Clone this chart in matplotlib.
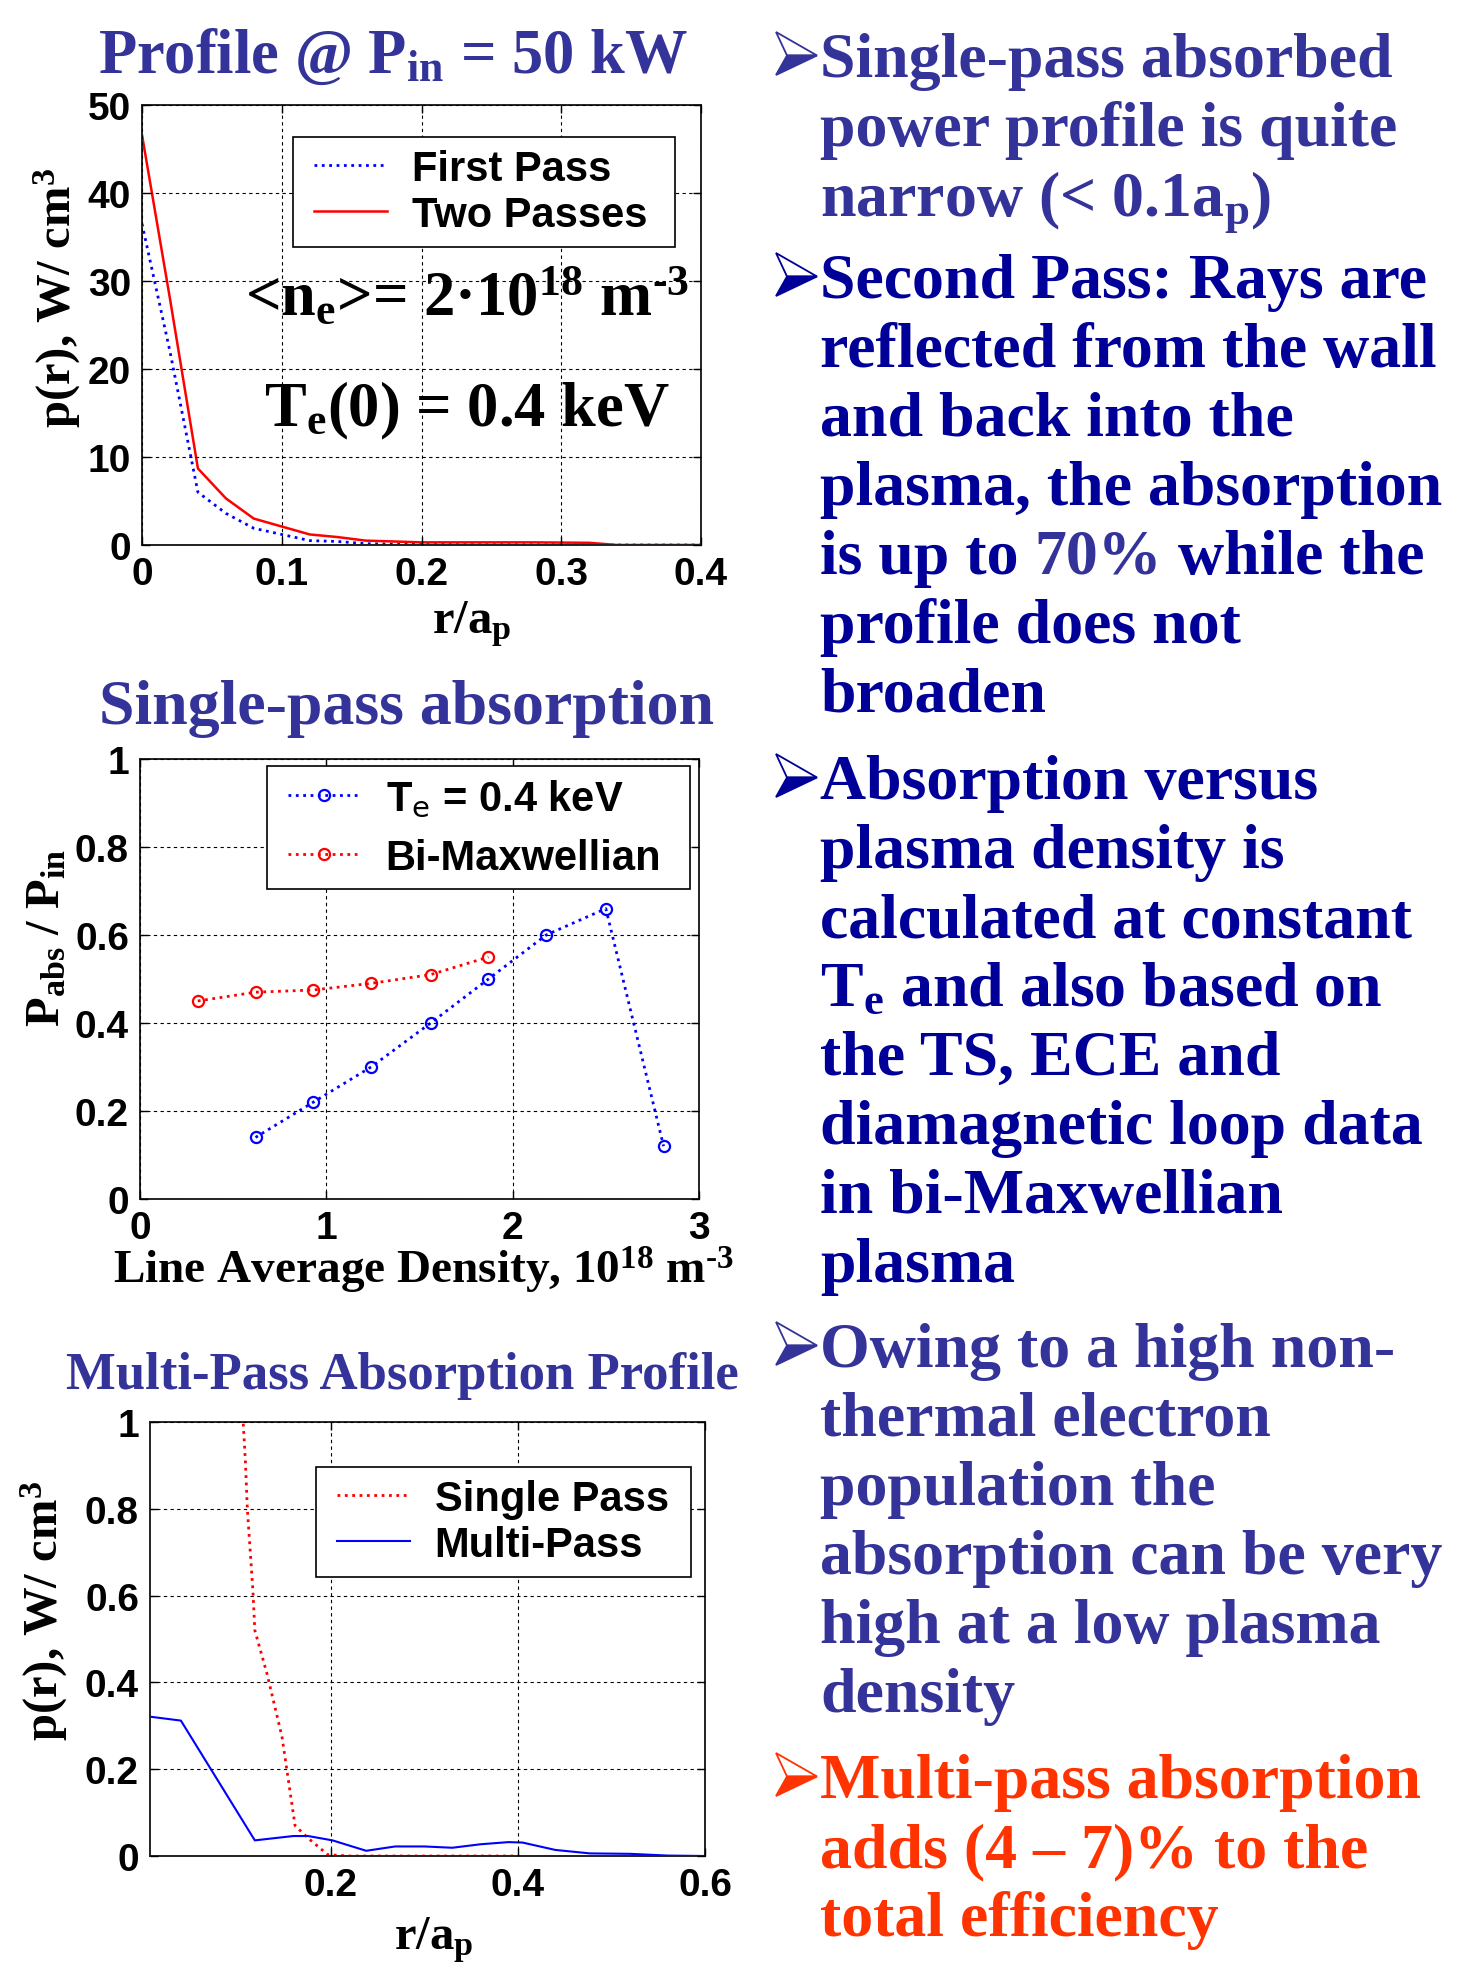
import numpy as np
import matplotlib.pyplot as plt
from matplotlib.patches import Polygon
from matplotlib.lines import Line2D
from matplotlib.legend_handler import HandlerLine2D

plt.rcParams['mathtext.fontset'] = 'custom'
plt.rcParams['mathtext.rm'] = 'Liberation Serif:bold'
plt.rcParams['mathtext.it'] = 'Liberation Serif:bold'
plt.rcParams['mathtext.bf'] = 'Liberation Serif:bold'

# --- data ---
# profile @ 50 kW
r_prof = [0, 0.02, 0.04, 0.06, 0.08, 0.10, 0.12, 0.14, 0.16, 0.18, 0.20, 0.24, 0.28, 0.32, 0.34, 0.40]
first_pass = [36.5, 22, 6.0, 3.6, 1.9, 1.2, 0.5, 0.4, 0.15, 0.1, 0.05, 0.03, 0.02, 0.01, 0, 0]
two_passes = [46.6, 28, 8.7, 5.3, 3.0, 2.1, 1.2, 0.9, 0.5, 0.4, 0.3, 0.3, 0.3, 0.25, 0, 0]

# single-pass absorption vs density
dens_te = [0.62, 0.93, 1.24, 1.56, 1.87, 2.18, 2.50, 2.81]
abs_te = [0.14, 0.22, 0.30, 0.40, 0.50, 0.60, 0.66, 0.12]
dens_bm = [0.31, 0.62, 0.93, 1.24, 1.56, 1.87]
abs_bm = [0.45, 0.47, 0.475, 0.49, 0.51, 0.55]

# multi-pass profile
r_single = [0.10, 0.109, 0.111, 0.117, 0.119, 0.132, 0.148, 0.162, 0.176, 0.197, 0.22, 0.30, 0.40]
p_single = [1.25, 0.906, 0.80, 0.61, 0.52, 0.42, 0.275, 0.07, 0.041, 0.003, 0, 0, 0]
r_multi = [0.007, 0.04, 0.119, 0.16, 0.176, 0.202, 0.238, 0.269, 0.30, 0.33, 0.36, 0.39, 0.405,
           0.44, 0.477, 0.52, 0.56, 0.6]
p_multi = [0.321, 0.312, 0.036, 0.046, 0.046, 0.036, 0.012, 0.022, 0.022, 0.019, 0.027, 0.032,
           0.031, 0.014, 0.006, 0.005, 0.001, 0.0]

TITLE = '#333399'
NAVY = '#000099'
ORANGE = '#FF3300'

W, H = 1468, 1974
fig = plt.figure(figsize=(W / 100, H / 100), dpi=100)


def box(l, t, r, b):
    return [l / W, 1 - b / H, (r - l) / W, (b - t) / H]


def ftext(x, y, s, **kw):
    kw.setdefault('family', 'Liberation Serif')
    kw.setdefault('fontweight', 'bold')
    return fig.text(x / W, 1 - y / H, s, **kw)


def style(ax):
    ax.grid(True, color='k', ls=(0, (3, 3)), lw=0.8)
    ax.set_axisbelow(False)
    ax.tick_params(direction='in', top=True, right=True, length=6, width=1, pad=8)
    for lab in ax.get_xticklabels() + ax.get_yticklabels():
        lab.set_family('Liberation Sans')
        lab.set_fontweight('bold')
        lab.set_fontsize(28)
    for s in ax.spines.values():
        s.set_linewidth(1.4)
        s.set_color('#222222')


def legend(ax, x, y, w, spacing=0.15):
    leg = ax.legend(loc='upper left', bbox_to_anchor=(x, y - 0.3, w, 0.3), mode='expand',
                    borderaxespad=0,
                    prop={'family': 'Liberation Sans', 'weight': 'bold', 'size': 30},
                    fancybox=False, framealpha=1, edgecolor='k', handlelength=1.97,
                    handletextpad=0.6, labelspacing=spacing, borderpad=0.28,
                    handler_map={Line2D: HandlerLine2D(xpad=0.22)})
    leg.get_frame().set_linewidth(1.2)
    for t in leg.get_texts():
        t.set_math_fontfamily('dejavusans')
    return leg


def arrow(yb, col):
    l, r = 776, 817
    top, bot = yb - 44, yb - 1
    mid = (top + bot) / 2 + 2
    notch = l + 11

    def pts(P):
        return [(x / W, 1 - y / H) for x, y in P]
    fig.patches.append(Polygon(pts([(l, top), (r, mid), (notch, mid)]), closed=True, fc='white',
                               ec=col, lw=1.3, transform=fig.transFigure))
    fig.patches.append(Polygon(pts([(notch, mid), (r, mid), (l, bot)]), closed=True, fc=col,
                               ec=col, lw=1.3, transform=fig.transFigure))


# ---------- plot 1 ----------
ax1 = fig.add_axes(box(142, 106, 701, 546))
ax1.plot(r_prof, first_pass, color='b', ls=':', lw=2, label='First Pass')
ax1.plot(r_prof, two_passes, color='r', ls='-', lw=1.8, label='Two Passes')
ax1.set_xlim(0, 0.4)
ax1.set_ylim(0, 50)
ax1.set_xticks([0, 0.1, 0.2, 0.3, 0.4])
ax1.set_xticklabels(['0', '0.1', '0.2', '0.3', '0.4'])
ax1.set_yticks([0, 10, 20, 30, 40, 50])
style(ax1)
legend(ax1, 0.270, 0.927, 0.683)
ftext(245, 315, r'<n$_\mathrm{e}$>= 2·10$^\mathrm{18}$ m$^\text{-3}$', fontsize=45)
ftext(264, 426, r'T$_\mathrm{e}$(0) = 0.4 keV', fontsize=45)
ftext(393, 73, r'Profile @ P$_\mathrm{in}$ = 50 kW', fontsize=45, color=TITLE, ha='center')
ftext(57, 298, r'p(r), W/ cm$^\mathrm{3}$', fontsize=35, rotation=90, ha='center', va='center')
ftext(472, 633, r'r/a$_\mathrm{p}$', fontsize=35, ha='center')

# ---------- plot 2 ----------
ax2 = fig.add_axes(box(140, 760, 699, 1200))
ax2.plot(dens_te, abs_te, color='b', ls=':', lw=2, marker='o', ms=8, mfc='none', mew=1.6,
         label=r'T$_\mathrm{e}$ = 0.4 keV')
ax2.plot(dens_bm, abs_bm, color='r', ls=':', lw=2, marker='o', ms=8, mfc='none', mew=1.6,
         label='Bi-Maxwellian')
ax2.set_xlim(0, 3)
ax2.set_ylim(0, 1)
ax2.set_xticks([0, 1, 2, 3])
ax2.set_yticks([0, 0.2, 0.4, 0.6, 0.8, 1])
ax2.set_yticklabels(['0', '0.2', '0.4', '0.6', '0.8', '1'])
style(ax2)
legend(ax2, 0.227, 0.984, 0.757, spacing=0.45)
ftext(407, 724, 'Single-pass absorption', fontsize=46, color=TITLE, ha='center')
ftext(47, 938, r'P$_\mathrm{abs}$ / P$_\mathrm{in}$', fontsize=35, rotation=90, ha='center', va='center')
ftext(423, 1284, r'Line Average Density, 10$^\mathrm{18}$ m$^\text{-3}$', fontsize=34, ha='center')

# ---------- plot 3 ----------
ax3 = fig.add_axes(box(150, 1423, 705, 1857))
ax3.plot(r_single, p_single, color='r', ls=':', lw=2, label='Single Pass')
ax3.plot(r_multi, p_multi, color='b', ls='-', lw=1.5, label='Multi-Pass')
ax3.set_xlim(0.007, 0.6)
ax3.set_ylim(0, 1)
ax3.set_xticks([0.2, 0.4, 0.6])
ax3.set_yticks([0, 0.2, 0.4, 0.6, 0.8, 1])
ax3.set_yticklabels(['0', '0.2', '0.4', '0.6', '0.8', '1'])
style(ax3)
legend(ax3, 0.299, 0.896, 0.676)
ftext(402, 1389, 'Multi-Pass Absorption Profile', fontsize=38, color=TITLE, ha='center')
ftext(44, 1611, r'p(r), W/ cm$^\mathrm{3}$', fontsize=35, rotation=90, ha='center', va='center')
ftext(434, 1949, r'r/a$_\mathrm{p}$', fontsize=35, ha='center')

# ---------- bullet text ----------
SIZE = 46
X0 = 820
bullets = [
    (77, TITLE, ['Single-pass absorbed', 'power profile is quite', r'narrow (< 0.1a$_\mathrm{p}$)']),
    (298, NAVY, ['Second Pass: Rays are', 'reflected from the wall', 'and back into the',
                 'plasma, the absorption', None, 'profile does not', 'broaden']),
    (799, NAVY, ['Absorption versus', 'plasma density is', 'calculated at constant',
                 r'T$_\mathrm{e}$ and also based on', 'the TS, ECE and', 'diamagnetic loop data',
                 'in bi-Maxwellian', 'plasma']),
    (1367, TITLE, ['Owing to a high non-', 'thermal electron', 'population the',
                   'absorption can be very', 'high at a low plasma', 'density']),
    (1798, ORANGE, ['Multi-pass absorption', 'adds (4 – 7)% to the', 'total efficiency']),
]
STEP = 69
renderer = fig.canvas.get_renderer()
for y0, col, lines in bullets:
    arrow(y0, col)
    for i, s in enumerate(lines):
        y = y0 + i * STEP
        if s is None:
            # line with a differently coloured number
            sp = 0.25 * SIZE * 100 / 72
            x = X0
            for part, c in [('is up to', NAVY), ('70%', TITLE), ('while the', NAVY)]:
                t = ftext(x, y, part, fontsize=SIZE, color=c)
                x = t.get_window_extent(renderer).x1 + sp
            continue
        ftext(X0, y, s, fontsize=SIZE, color=col)

fig.savefig('out.png', dpi=100)
